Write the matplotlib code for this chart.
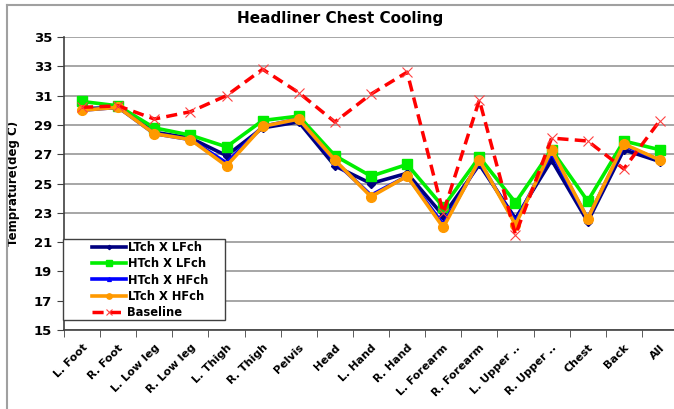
#!/usr/bin/env python3
"""
Headliner chest cooling - temperature per body segment
"""

import numpy as np
from matplotlib import pyplot as plt
from matplotlib.lines import Line2D
from matplotlib.patches import Rectangle

segments = ["L. Foot", "R. Foot", "L. Low leg", "R. Low leg", "L. Thigh", "R. Thigh",
            "Pelvis", "Head", "L. Hand", "R. Hand", "L. Forearm", "R. Forearm",
            "L. Upper ..", "R. Upper ..", "Chest", "Back", "All"]

ltch_lfch = [30.1, 30.2, 28.5, 28.1, 26.9, 28.8, 29.2, 26.2, 25.0, 25.7, 22.8, 26.3, 22.6, 26.6, 22.4, 27.3, 26.5]
htch_lfch = [30.6, 30.3, 28.8, 28.3, 27.5, 29.3, 29.6, 26.9, 25.5, 26.3, 23.4, 26.8, 23.7, 27.3, 23.8, 27.9, 27.3]
htch_hfch = [30.0, 30.2, 28.4, 28.0, 26.4, 28.9, 29.4, 26.5, 24.2, 25.5, 22.2, 26.5, 22.4, 27.1, 22.6, 27.6, 26.6]
ltch_hfch = [30.0, 30.2, 28.4, 28.0, 26.2, 28.9, 29.4, 26.6, 24.1, 25.5, 22.0, 26.6, 22.2, 27.3, 22.6, 27.7, 26.6]
baseline  = [30.2, 30.3, 29.4, 29.9, 31.0, 32.8, 31.2, 29.2, 31.1, 32.6, 23.0, 30.7, 21.5, 28.1, 27.9, 26.0, 29.3]

plt.rcParams["font.family"] = "DejaVu Sans"
plt.rcParams["font.weight"] = "bold"

W, H = 674, 409
fig = plt.figure(figsize=(W/100, H/100), dpi=100)
ax = fig.add_axes([64/W, 1-330/H, 614/W, 293/H])

x = np.arange(len(segments))
ax.plot(x, ltch_lfch, color="#000080", lw=2.6, marker="D", ms=4, label="LTch X LFch", zorder=3)
ax.plot(x, htch_lfch, color="#00ee00", lw=2.6, marker="s", ms=7, label="HTch X LFch", zorder=3)
ax.plot(x, htch_hfch, color="#0000ff", lw=2.6, marker="^", ms=5, label="HTch X HFch", zorder=3)
ax.plot(x, ltch_hfch, color="#ff9900", lw=2.6, marker="o", ms=7, label="LTch X HFch", zorder=3)
ax.plot(x, baseline, color="#ff0000", lw=2.5, ls=(0, (3.2, 1.8)), marker="x", ms=7,
        mew=0.8, mec="#ff4040", label="Baseline", zorder=4)

ax.set_xlim(-0.5, len(segments) - 0.5)
ax.set_ylim(15, 35)
ax.set_yticks(np.arange(15, 36, 2))
ax.yaxis.grid(True, color="#a6a6a6", lw=1.4)
ax.set_axisbelow(True)

ax.set_xticks(x)
ax.set_xticklabels(segments, rotation=45, ha="right", rotation_mode="anchor", fontsize=8)
ax.set_xticks(np.arange(-0.5, len(segments)), minor=True)
ax.tick_params(axis="x", which="major", length=0, pad=9)
ax.tick_params(axis="x", which="minor", length=5, color="#404040")
ax.tick_params(axis="y", length=5, labelsize=9.5, color="#404040")

for s in ["top", "right"]:
    ax.spines[s].set_visible(False)
for s in ["left", "bottom"]:
    ax.spines[s].set_color("#404040")
    ax.spines[s].set_linewidth(1.2)

ax.set_ylabel("Temprature(deg C)", fontsize=8.5, fontweight="bold", labelpad=10)

# legend: box drawn separately so the entries sit indented like the original
ax.add_patch(Rectangle((63/W, 1-320/H), 162/W, 81/H, transform=fig.transFigure,
                       facecolor="white", edgecolor="#404040", lw=1, zorder=5, clip_on=False))
leg = ax.legend(loc="center left", bbox_to_anchor=(86/W, 1-280/H), bbox_transform=fig.transFigure,
                fontsize=8.3, frameon=False, handlelength=3.0, handletextpad=0.1,
                borderpad=0.0, labelspacing=0.3, markerscale=0.55)
leg.set_zorder(6)

fig.text(0.505, 1-18/H, "Headliner Chest Cooling", ha="center", va="center",
         fontsize=11, fontweight="bold")

# outer chart border
fig.add_artist(Line2D([7/W, 7/W], [0, 1-5/H], color="#a0a0a0", lw=1.5))
fig.add_artist(Line2D([7/W, 1], [1-5/H, 1-5/H], color="#a0a0a0", lw=1.5))

fig.savefig("out.png", dpi=100)
